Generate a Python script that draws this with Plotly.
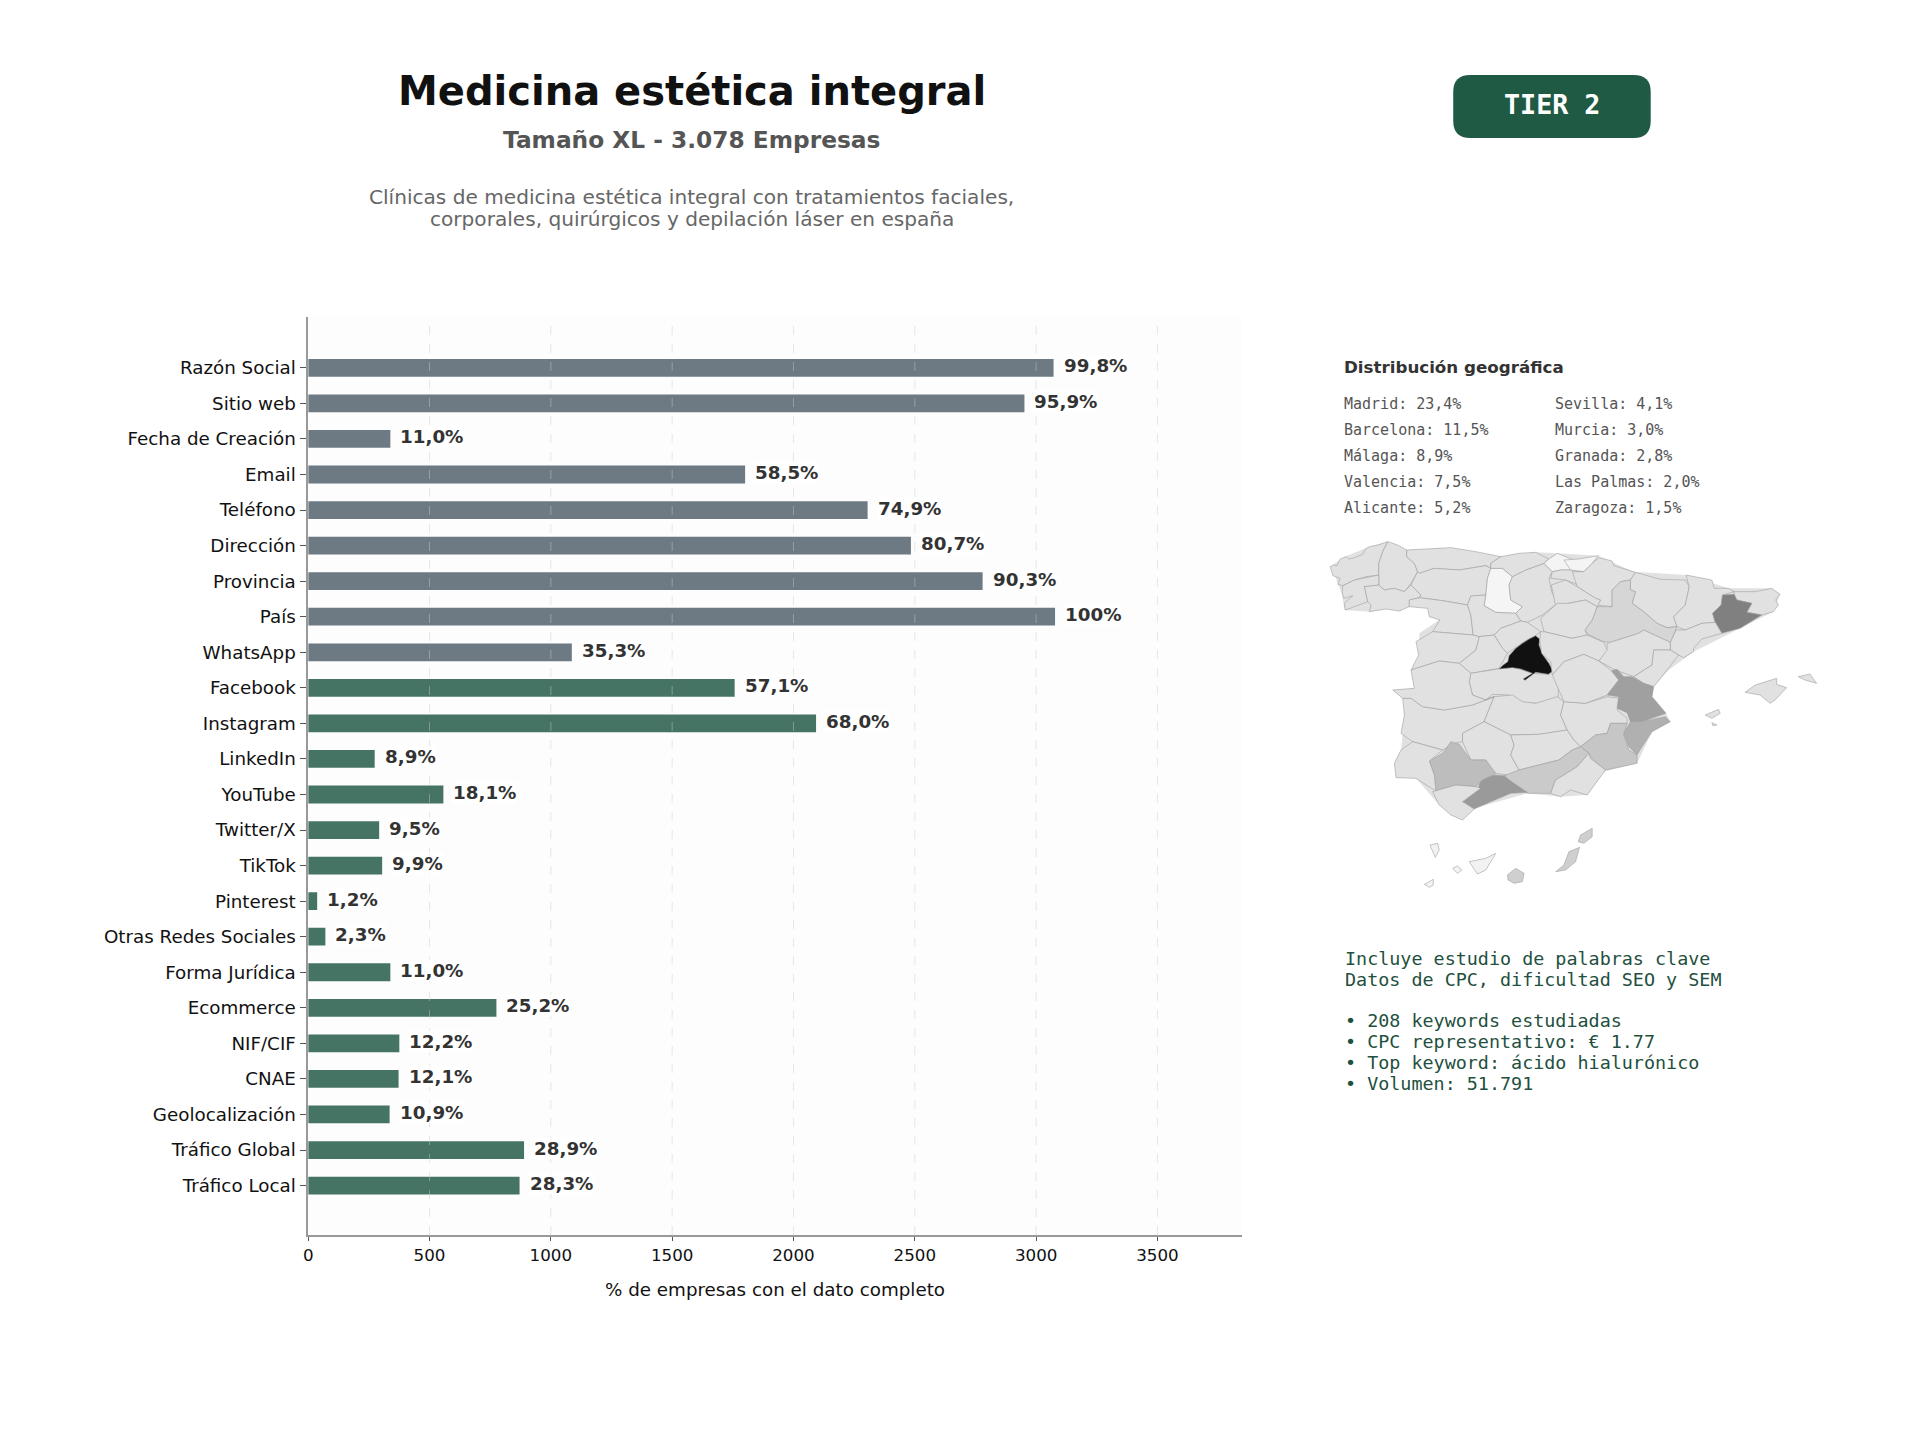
import plotly.graph_objects as go

W, H = 1920, 1440

# --- bar chart data -------------------------------------------------------
TOTAL_COMPANIES = 3078
fields = ["Razón Social", "Sitio web", "Fecha de Creación", "Email", "Teléfono", "Dirección",
          "Provincia", "País", "WhatsApp", "Facebook", "Instagram", "LinkedIn", "YouTube",
          "Twitter/X", "TikTok", "Pinterest", "Otras Redes Sociales", "Forma Jurídica",
          "Ecommerce", "NIF/CIF", "CNAE", "Geolocalización", "Tráfico Global", "Tráfico Local"]
completeness = [99.8, 95.9, 11.0, 58.5, 74.9, 80.7, 90.3, 100, 35.3, 57.1, 68.0, 8.9, 18.1,
                9.5, 9.9, 1.2, 2.3, 11.0, 25.2, 12.2, 12.1, 10.9, 28.9, 28.3]
value_labels = ["99,8%", "95,9%", "11,0%", "58,5%", "74,9%", "80,7%", "90,3%", "100%", "35,3%",
                "57,1%", "68,0%", "8,9%", "18,1%", "9,5%", "9,9%", "1,2%", "2,3%", "11,0%",
                "25,2%", "12,2%", "12,1%", "10,9%", "28,9%", "28,3%"]
GREY_FIELDS = 9
x_ticks = [0, 500, 1000, 1500, 2000, 2500, 3000, 3500]

# --- side panel text ------------------------------------------------------
geo_left = ["Madrid: 23,4%", "Barcelona: 11,5%", "Málaga: 8,9%", "Valencia: 7,5%", "Alicante: 5,2%"]
geo_right = ["Sevilla: 4,1%", "Murcia: 3,0%", "Granada: 2,8%", "Las Palmas: 2,0%", "Zaragoza: 1,5%"]
geo_rows = [404, 430, 456, 482, 508]
notes = [("Incluye estudio de palabras clave", 958), ("Datos de CPC, dificultad SEO y SEM", 979),
         ("• 208 keywords estudiadas", 1020), ("• CPC representativo: € 1.77", 1041),
         ("• Top keyword: ácido hialurónico", 1062), ("• Volumen: 51.791", 1083)]

# --- province outlines, grouped in map sheets, each with its own origin ----
mainland_outline = [(62,140),(105,110),(180,80),(235,65),(292,90),(425,83),(575,110),(680,97),(745,100),(868,107),
                    (975,155),(1135,165),(1260,205),(1390,205),(1415,223),(1395,275),(1295,325),(1155,395),(1080,450),
                    (1035,500),(1030,530),(1072,580),(1085,605),(1030,635),(985,730),(885,755),(835,825),(755,830),
                    (655,820),(495,865),(460,900),(390,855),(320,775),(265,770),(255,730),(275,690),(280,640),(295,590),
                    (280,535),(250,510),(315,505),(330,400),(330,340),(390,300),(355,265),(310,232),(240,265),(180,275),
                    (105,270),(98,225),(75,165)]
sheet_northwest = {
    "A Coruña": [(32,95),(42,90),(52,92),(62,72),(80,65),(88,72),(100,70),(130,58),(138,42),(150,35),(175,30),(205,20),(190,50),(178,85),(178,120),(140,125),(105,135),(70,152),(55,148),(62,130),(40,122),(36,108)],
    "Lugo": [(205,20),(235,30),(262,45),(262,65),(285,85),(295,110),(275,145),(255,170),(225,160),(195,165),(178,150),(178,120),(178,85),(190,50)],
    "Asturias": [(262,45),(320,42),(395,38),(470,50),(545,65),(515,85),(515,100),(500,92),(420,105),(345,100),(300,115),(295,110),(285,85),(262,65)],
    "Pontevedra": [(70,152),(105,135),(178,120),(178,150),(135,155),(145,200),(78,225),(74,205),(100,182),(72,190),(68,170)],
    "Ourense": [(135,155),(178,150),(195,165),(225,160),(255,170),(275,150),(305,180),(300,188),(270,195),(270,215),(240,228),(200,222),(150,230),(155,210),(145,200)],
    "León": [(295,110),(300,115),(345,100),(420,105),(500,92),(515,100),(505,130),(500,180),(455,183),(445,210),(370,197),(300,188),(305,180),(275,150)],
    "Zamora": [(270,215),(270,195),(300,188),(370,197),(445,210),(455,240),(462,300),(395,295),(340,290),(362,255),(330,245),(325,220)],
    "Palencia": [(515,100),(550,100),(580,125),(570,150),(575,195),(610,215),(590,235),(530,232),(495,212),(500,180),(505,130)],
    "Burgos": [(580,125),(620,105),(675,85),(700,110),(690,130),(698,170),(715,205),(670,240),(625,262),(605,258),(590,235),(610,215),(575,195),(570,150)],
    "Cantabria": [(545,65),(600,55),(650,52),(690,72),(675,85),(620,105),(580,125),(550,100),(515,100),(515,85)],
    "Valladolid": [(455,183),(500,180),(495,212),(530,232),(590,235),(605,258),(545,280),(525,300),(480,305),(462,300),(455,240),(445,210)],
    "Segovia": [(525,300),(545,280),(605,258),(625,262),(665,290),(650,302),(615,320),(565,355),(550,340)],
    "Ávila": [(480,305),(525,300),(550,340),(565,355),(540,400),(455,415),(420,385),(470,345)],
    "Salamanca": [(340,290),(395,295),(462,300),(480,305),(470,345),(420,385),(360,378),(275,405),(298,360),(290,320)],
    "Toledo": [(455,415),(540,400),(580,395),(640,415),(690,418),(700,410),(718,460),(718,490),(655,505),(590,500),(570,480),(520,478),(500,495),(460,480),(450,440)],
    "Bizkaia": [(675,85),(690,72),(715,55),(765,75),(755,105),(725,105),(700,110)],
    "Álava": [(700,110),(725,105),(755,105),(790,110),(780,150),(740,135),(695,130)],
    "Madrid": [(650,302),(662,312),(660,330),(672,360),(690,385),(702,408),(688,418),(650,412),(618,436),(612,432),(640,415),(605,402),(580,398),(540,402),(552,390),(566,380),(570,362),(590,340),(610,325),(630,312)],
}
sheet_northeast = {
    "Gipuzkoa": [(-15,75),(30,72),(88,62),(70,85),(45,110),(5,105)],
    "Navarra": [(10,110),(45,110),(70,85),(90,68),(130,78),(135,92),(200,112),(185,135),(155,140),(130,165),(130,215),(85,210),(95,195),(80,190),(25,155)],
    "La Rioja": [(-53,150),(-10,135),(25,155),(80,190),(95,195),(85,215),(50,195),(0,205),(-40,212)],
    "Huesca": [(200,112),(245,125),(275,133),(350,135),(362,155),(350,210),(315,245),(325,275),(295,278),(265,265),(225,230),(190,205),(200,170),(185,165),(185,135)],
    "Lleida": [(352,120),(430,135),(437,160),(480,160),(497,170),(462,180),(458,210),(432,235),(440,262),(400,265),(350,285),(325,275),(315,245),(350,210),(362,155)],
    "Girona": [(497,170),(560,170),(610,160),(635,178),(622,195),(630,210),(615,230),(580,240),(535,232),(550,205),(505,195),(497,178)],
    "Barcelona": [(462,180),(497,178),(505,195),(550,205),(535,232),(580,240),(515,280),(460,295),(440,262),(432,235),(458,210)],
    "Tarragona": [(305,322),(322,285),(350,285),(400,265),(440,262),(460,295),(400,312),(375,340),(375,350),(345,368),(330,360),(305,345)],
    "Zaragoza": [(130,215),(130,165),(155,140),(185,135),(185,165),(200,170),(190,205),(225,230),(265,265),(295,278),(325,275),(305,322),(225,285),(210,295),(125,322),(105,320),(60,300),(48,285),(70,255),(85,215)],
    "Teruel": [(115,325),(125,322),(210,295),(225,285),(305,322),(305,345),(255,345),(250,390),(195,425),(140,405),(90,378),(115,340)],
    "Castellón": [(305,345),(330,360),(295,405),(255,455),(225,445),(195,425),(250,390),(255,345)],
    "Mallorca": [(530,472),(560,450),(625,430),(625,448),(655,458),(620,495),(605,505),(575,480)],
    "Menorca": [(690,425),(725,417),(745,445),(710,435)],
}
sheet_southwest = {
    "Badajoz": [(70,40),(95,40),(130,65),(195,75),(280,60),(345,35),(315,110),(250,145),(250,170),(225,175),(190,195),(100,170),(65,145),(75,90)],
    "Ciudad Real": [(345,35),(400,30),(430,50),(470,55),(535,35),(555,50),(545,90),(565,135),(480,148),(395,150),(315,110),(330,75)],
    "Córdoba": [(315,110),(395,150),(405,180),(395,210),(420,255),(390,270),(345,265),(320,225),(275,225),(250,170),(250,145)],
    "Jaén": [(395,150),(480,148),(565,135),(585,165),(605,185),(580,195),(540,225),(480,240),(420,255),(395,210),(405,180)],
    "Albacete": [(555,50),(620,55),(685,35),(720,40),(715,75),(745,100),(745,115),(695,115),(685,145),(650,150),(605,185),(585,165),(565,135),(545,90)],
    "Murcia": [(605,185),(650,150),(685,145),(695,115),(745,115),(735,150),(750,195),(775,210),(775,235),(680,255),(635,220),(630,205)],
    "Granada": [(420,255),(480,240),(540,225),(580,195),(605,185),(630,205),(595,245),(555,270),(530,285),(515,325),(445,325),(390,285),(375,272)],
    "Almería": [(630,205),(635,220),(680,255),(625,330),(575,315),(545,335),(515,325),(530,285),(555,270),(595,245)],
    "Málaga": [(305,285),(345,270),(375,272),(390,285),(445,322),(395,325),(335,350),(285,372),(250,350),(295,315)],
    "Sevilla": [(150,228),(190,205),(215,170),(240,178),(275,225),(320,225),(350,265),(310,285),(290,305),(230,300),(170,318),(165,270)],
    "Huelva": [(45,235),(65,195),(100,170),(190,195),(150,228),(165,270),(170,318),(110,280),(50,278)],
    "Cádiz": [(160,320),(230,300),(290,305),(305,310),(250,350),(285,372),(250,405),(215,390),(180,360)],
}
sheet_centre = {
    "Cáceres": [(305,450),(390,423),(450,430),(485,460),(480,485),(490,525),(530,540),(555,530),(490,555),(405,570),(340,560),(305,535),(280,535),(250,510),(315,505)],
    "Soria": [(695,295),(745,250),(780,250),(830,240),(865,260),(850,300),(828,330),(835,345),(790,355),(705,335)],
    "Guadalajara": [(695,335),(705,335),(790,355),(835,345),(885,367),(895,390),(870,423),(825,403),(765,425),(730,465),(725,425),(698,400),(692,360)],
    "Cuenca": [(730,465),(765,425),(825,403),(870,423),(908,452),(930,480),(895,525),(830,550),(765,545),(748,505)],
    "Valencia": [(908,452),(925,448),(945,470),(970,470),(1005,490),(1035,500),(1030,530),(1072,580),(1000,605),(965,605),(955,578),(925,565),(930,530),(895,525),(930,480)],
    "Alicante": [(1000,605),(1070,590),(1085,605),(1030,635),(1000,680),(985,705),(960,680),(945,640),(965,605)],
    "Ibiza": [(1190,585),(1230,568),(1235,580),(1210,595)],
    "Formentera": [(1210,608),(1225,615),(1213,617)],
    "Gran Canaria": [(595,1065),(620,1045),(645,1060),(640,1085),(615,1090),(597,1080)],
    "Fuerteventura": [(740,1055),(765,1035),(780,995),(812,982),(800,1025),(770,1050)],
    "Lanzarote": [(808,965),(815,945),(850,925),(850,950),(825,970)],
    "Tenerife": [(480,1025),(530,1015),(560,1000),(530,1050),(505,1062)],
    "La Gomera": [(430,1045),(445,1038),(458,1050),(445,1060)],
    "La Palma": [(362,975),(385,970),(390,990),(378,1012)],
    "El Hierro": [(345,1093),(372,1078),(372,1095),(360,1102)],
}
sheets = [(sheet_northwest, 30, 45), (sheet_northeast, 780, 45), (sheet_southwest, 210, 495), (sheet_centre, 0, 0)]

province_fill = {"Madrid": "#111111", "Barcelona": "#808080", "Valencia": "#a0a0a0", "Málaga": "#9a9a9a",
                 "Alicante": "#b0b0b0", "Sevilla": "#bdbdbd", "Murcia": "#c6c6c6", "Granada": "#cacaca",
                 "Zaragoza": "#d6d6d6", "Gran Canaria": "#cfcfcf", "Fuerteventura": "#cfcfcf", "Lanzarote": "#cfcfcf",
                 "Palencia": "#f5f5f5", "Bizkaia": "#f4f4f4", "Gipuzkoa": "#f4f4f4", "Tenerife": "#f2f2f2",
                 "La Gomera": "#f2f2f2", "La Palma": "#f2f2f2", "El Hierro": "#f2f2f2"}
DEFAULT_FILL = "#e1e1e1"

SANS = "DejaVu Sans"
MONO = "DejaVu Sans Mono"


def px(x):
    return x / W


def py(y):
    return 1 - y / H


def label(text, x, y, size, color, family=SANS, bold=False, anchor="center"):
    return dict(text=f"<b>{text}</b>" if bold else text, xref="paper", yref="paper", x=px(x), y=py(y),
                xanchor=anchor, yanchor="middle", showarrow=False,
                font=dict(family=family, size=size, color=color))


fig = go.Figure()

bar_counts = [p * TOTAL_COMPANIES / 100 for p in completeness]
bar_colors = ["#6d7a83" if i < GREY_FIELDS else "#467464" for i in range(len(fields))]
fig.add_trace(go.Bar(y=fields, x=bar_counts, orientation="h", width=0.5,
                     marker=dict(color=bar_colors, line=dict(width=0)), showlegend=False,
                     xaxis="x", yaxis="y"))

# the silhouette goes first so slivers between neighbouring provinces stay filled
fig.add_trace(go.Scatter(x=[p[0] for p in mainland_outline] + [mainland_outline[0][0]],
                         y=[p[1] for p in mainland_outline] + [mainland_outline[0][1]],
                         mode="lines", fill="toself", fillcolor=DEFAULT_FILL, showlegend=False,
                         line=dict(width=0), xaxis="x2", yaxis="y2"))
for sheet, ox, oy in sheets:
    for name, outline in sheet.items():
        xs = [p[0] + ox for p in outline] + [outline[0][0] + ox]
        ys = [p[1] + oy for p in outline] + [outline[0][1] + oy]
        fig.add_trace(go.Scatter(x=xs, y=ys, mode="lines", fill="toself", name=name, showlegend=False,
                                 fillcolor=province_fill.get(name, DEFAULT_FILL),
                                 line=dict(color="#a0a0a0", width=0.6),
                                 xaxis="x2", yaxis="y2"))

annotations = [
    label("Medicina estética integral", 688.5, 91, 40, "#111111", bold=True),
    label("Tamaño XL - 3.078 Empresas", 688.5, 140, 23.3, "#555555", bold=True),
    label("Clínicas de medicina estética integral con tratamientos faciales,", 688.5, 197, 20.1, "#666666"),
    label("corporales, quirúrgicos y depilación láser en españa", 688.5, 219, 20.1, "#666666"),
    label("TIER 2", 1551, 105, 26.7, "#ffffff", MONO, True),
    label("Distribución geográfica", 1340, 367, 16.7, "#333333", bold=True, anchor="left"),
]
for row_y, a, b in zip(geo_rows, geo_left, geo_right):
    annotations.append(label(a, 1340, row_y, 15, "#555555", MONO, anchor="left"))
    annotations.append(label(b, 1552, row_y, 15, "#555555", MONO, anchor="left"))
for text, y in notes:
    annotations.append(label(text, 1341, y, 18.4, "#1f5040", MONO, anchor="left"))
for field, count, text in zip(fields, bar_counts, value_labels):
    annotations.append(dict(x=count, y=field, xref="x", yref="y", text=f"<b>{text}</b>", showarrow=False,
                            xanchor="left", yanchor="middle", xshift=9, yshift=2,
                            bgcolor="rgba(255,255,255,0.8)", borderpad=0,
                            font=dict(family=SANS, size=18.3, color="#333333")))

AX_L, AX_R, AX_T, AX_B = 304, 1240, 317, 1235

# rounded badge behind the tier label
bx0, bx1, by0, by1, r = 1452, 1650, 75, 138, 17
badge = (f"M {px(bx0+r)} {py(by0)} L {px(bx1-r)} {py(by0)} Q {px(bx1)} {py(by0)} {px(bx1)} {py(by0+r)} "
         f"L {px(bx1)} {py(by1-r)} Q {px(bx1)} {py(by1)} {px(bx1-r)} {py(by1)} "
         f"L {px(bx0+r)} {py(by1)} Q {px(bx0)} {py(by1)} {px(bx0)} {py(by1-r)} "
         f"L {px(bx0)} {py(by0+r)} Q {px(bx0)} {py(by0)} {px(bx0+r)} {py(by0)} Z")
shapes = [dict(type="path", path=badge, xref="paper", yref="paper", fillcolor="#1f5a45",
               line=dict(width=0), layer="above"),
          dict(type="rect", xref="paper", yref="paper", x0=px(AX_L), x1=px(AX_R), y0=py(AX_B), y1=py(AX_T),
               fillcolor="#fdfdfd", line=dict(width=0), layer="below")]
# dashed guides stay visible across the bars
for t in x_ticks[1:]:
    shapes.append(dict(type="line", xref="x", yref="paper", x0=t, x1=t, y0=py(AX_B), y1=py(AX_T),
                       line=dict(color="rgba(205,205,205,0.45)", width=1, dash="dash"), layer="above"))

fig.update_layout(
    width=W, height=H, autosize=False, margin=dict(l=0, r=0, t=0, b=0),
    paper_bgcolor="#ffffff", plot_bgcolor="rgba(0,0,0,0)", bargap=0.5,
    font=dict(family=SANS), annotations=annotations, shapes=shapes,
    xaxis=dict(domain=[px(AX_L), px(AX_R)], range=[0, 3847.5], tickmode="array", tickvals=x_ticks,
               showgrid=False, zeroline=False, showline=True, linecolor="#999999", linewidth=1.5,
               ticks="outside", ticklen=4, tickcolor="#555555", tickwidth=1,
               tickfont=dict(family=SANS, size=16.7, color="#111111"), anchor="y",
               title=dict(text="% de empresas con el dato completo", standoff=19,
                          font=dict(family=SANS, size=18.3, color="#111111"))),
    yaxis=dict(domain=[py(AX_B), py(AX_T)], range=[24.39, -1.43], type="category", anchor="x",
               categoryorder="array", categoryarray=fields,
               showgrid=False, zeroline=False, showline=True, linecolor="#999999", linewidth=1.5,
               ticks="outside", ticklen=6, tickcolor="#555555", tickwidth=1, ticklabelstandoff=1,
               tickfont=dict(family=SANS, size=18.3, color="#111111")),
    xaxis2=dict(domain=[px(1308), px(1828)], range=[0, 1560], visible=False, anchor="y2"),
    yaxis2=dict(domain=[py(900), py(520)], range=[1140, 0], visible=False, anchor="x2"),
)

fig.write_html("out.html")
